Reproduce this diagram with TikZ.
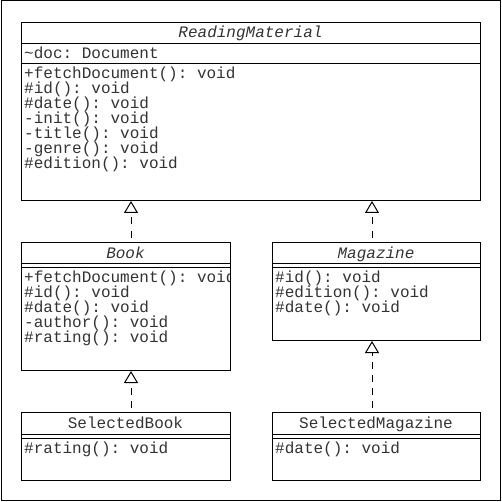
\documentclass[tikz,border=0pt]{standalone}
\usepackage{fontspec}
\setmonofont{Liberation Mono}
\usetikzlibrary{arrows.meta}
\begin{document}
\begin{tikzpicture}[x=1pt,y=-1pt,
  classbox/.style={draw, line width=1pt, fill=white, rectangle, inner sep=0pt, anchor=north west},
  abstitle/.style={anchor=base, inner sep=0pt, text=black!80, font=\fontsize{16}{15}\ttfamily\itshape},
  ctitle/.style={anchor=base, inner sep=0pt, text=black!80, font=\fontsize{16}{15}\ttfamily},
  member/.style={anchor=base west, inner sep=0pt, text=black!80, font=\fontsize{16}{15}\ttfamily},
  sepline/.style={line width=1pt},
  realize/.style={line width=1pt, dash pattern=on 7pt off 6pt, dash phase=9pt,
    -{Triangle[open,length=12pt,width=14pt,line width=1pt]}}]
\useasboundingbox (0,0) rectangle (502,502);
\draw[line width=1pt] (1,1) rectangle (500.5,500.5);

% ReadingMaterial
\node[classbox, minimum width=459pt, minimum height=178pt] (rm) at (21,22) {};
\draw[sepline] (rm.west |- 0,44) -- (rm.east |- 0,44);
\draw[sepline] (rm.west |- 0,64) -- (rm.east |- 0,64);
\node[abstitle] (rmt) at (250.5,37.5) {ReadingMaterial};
\node[member] (rma) at (24,58.5) {\char`\~doc: Document};
\node[member] (rm1) at (24,78.5) {+fetchDocument(): void};
\node[member] (rm2) at (24,93.5) {\#id(): void};
\node[member] (rm3) at (24,108.5) {\#date(): void};
\node[member] (rm4) at (24,123.5) {-init(): void};
\node[member] (rm5) at (24,138.5) {-title(): void};
\node[member] (rm6) at (24,153.5) {-genre(): void};
\node[member] (rm7) at (24,168.5) {\#edition(): void};

% Book
\node[classbox, minimum width=209pt, minimum height=128.5pt] (book) at (21,241.5) {};
\draw[sepline] (book.west |- 0,263.5) -- (book.east |- 0,263.5);
\draw[sepline] (book.west |- 0,267) -- (book.east |- 0,267);
\node[abstitle] (bookt) at (125.5,258) {Book};
\begin{scope}
\clip (21,241.5) rectangle (229.5,370);
\node[member] (b1) at (24,282.5) {+fetchDocument(): void};
\end{scope}
\node[member] (b2) at (24,297.5) {\#id(): void};
\node[member] (b3) at (24,312.5) {\#date(): void};
\node[member] (b4) at (24,327.5) {-author(): void};
\node[member] (b5) at (24,342.5) {\#rating(): void};

% Magazine
\node[classbox, minimum width=208pt, minimum height=98.5pt] (mag) at (272,241.5) {};
\draw[sepline] (mag.west |- 0,263.5) -- (mag.east |- 0,263.5);
\draw[sepline] (mag.west |- 0,267) -- (mag.east |- 0,267);
\node[abstitle] (magt) at (376,258) {Magazine};
\node[member] (m1) at (275,282.5) {\#id(): void};
\node[member] (m2) at (275,297.5) {\#edition(): void};
\node[member] (m3) at (275,312.5) {\#date(): void};

% SelectedBook
\node[classbox, minimum width=209pt, minimum height=68.5pt] (sbook) at (21,411.5) {};
\draw[sepline] (sbook.west |- 0,434) -- (sbook.east |- 0,434);
\draw[sepline] (sbook.west |- 0,438) -- (sbook.east |- 0,438);
\node[ctitle] (sbookt) at (125.5,428.5) {SelectedBook};
\node[member] (sb1) at (24,453) {\#rating(): void};

% SelectedMagazine
\node[classbox, minimum width=208pt, minimum height=68.5pt] (smag) at (272,411.5) {};
\draw[sepline] (smag.west |- 0,434) -- (smag.east |- 0,434);
\draw[sepline] (smag.west |- 0,438) -- (smag.east |- 0,438);
\node[ctitle] (smagt) at (376,428.5) {SelectedMagazine};
\node[member] (sm1) at (275,453) {\#date(): void};

% realizations
\coordinate (xa) at (131,0);
\coordinate (xb) at (372,0);
\draw[realize] (book.north -| xa) -- (rm.south -| xa);
\draw[realize] (mag.north -| xb) -- (rm.south -| xb);
\draw[realize] (sbook.north -| xa) -- (book.south -| xa);
\draw[realize] (smag.north -| xb) -- (mag.south -| xb);
\end{tikzpicture}
\end{document}
